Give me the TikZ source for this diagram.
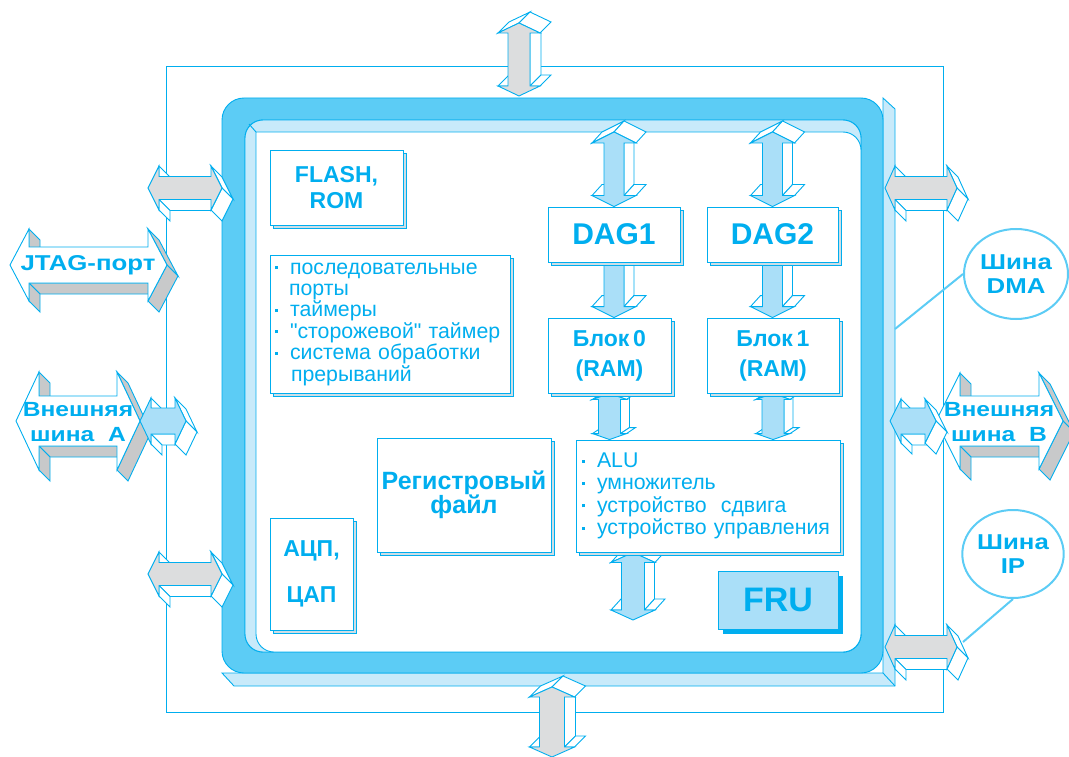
\documentclass[tikz,border=0pt]{standalone}
\usepackage{fontspec}
\setmainfont{Liberation Sans}
\newfontfamily\widesans[FakeStretch=1.2]{Liberation Sans}
\usetikzlibrary{calc,shapes.geometric,shadows}

\definecolor{busline}{RGB}{0,174,239}
\definecolor{ringblue}{RGB}{92,204,245}
\definecolor{paleblue}{RGB}{200,234,250}
\definecolor{arrowblue}{RGB}{170,223,248}
\definecolor{facegray}{RGB}{220,221,222}
\definecolor{sidegray}{RGB}{200,201,202}
\definecolor{shadowgray}{RGB}{205,222,230}
\definecolor{ovalline}{RGB}{92,204,245}

\pgfdeclarelayer{frame}
\pgfdeclarelayer{buses}
\pgfsetlayers{frame,buses,main}

\tikzset{
  busedge/.style={draw=busline, line width=0.9pt, line join=miter},
  panel/.style={draw=busline, line width=0.9pt, fill=white, text=busline,
    align=center, inner sep=0pt,
    general shadow={fill=shadowgray, draw=busline, line width=0.6pt,
      shadow xshift=3pt, shadow yshift=-3pt}},
  oval/.style={ellipse, draw=ovalline, line width=2pt, fill=white,
    text=busline, align=center, inner sep=0pt,
    font=\widesans\fontsize{21.5}{24}\selectfont\bfseries},
  buslabel/.style={text=busline, align=center, inner sep=0pt,
    font=\widesans\fontsize{20.5}{25}\selectfont\bfseries},
  callout/.style={draw=ovalline, line width=2pt},
}

% offset of the 3d side of a bus arrow
\def\busdx{11}
\def\busdy{11}

% horizontal double arrow: tips #1,#2; shaft half #3; head half #4;
% head length #5; face colour #6; side colour #7
\newcommand{\hbus}[7]{%
  \coordinate (t1) at (#1);
  \coordinate (t6) at (#2);
  \coordinate (t2) at ($(t1)+(#5,-#4)$);
  \coordinate (t3) at ($(t1)+(#5,-#3)$);
  \coordinate (t4) at ($(t6)+(-#5,-#3)$);
  \coordinate (t5) at ($(t6)+(-#5,-#4)$);
  \coordinate (t7) at ($(t6)+(-#5,#4)$);
  \coordinate (t8) at ($(t6)+(-#5,#3)$);
  \coordinate (t9) at ($(t1)+(#5,#3)$);
  \coordinate (t10) at ($(t1)+(#5,#4)$);
  \foreach \a/\b in {2/3,8/9,9/10,5/6,6/7}
    \draw[busedge, fill=#7] (t\a) -- (t\b) -- ($(t\b)+(\busdx,\busdy)$)
      -- ($(t\a)+(\busdx,\busdy)$) -- cycle;
  \draw[busedge, fill=#6] (t1) -- (t2) -- (t3) -- (t4) -- (t5) -- (t6)
    -- (t7) -- (t8) -- (t9) -- (t10) -- cycle;
}

% vertical double arrow: top tip #1, bottom tip #2, rest as above
\newcommand{\vbus}[7]{%
  \coordinate (t1) at (#1);
  \coordinate (t6) at (#2);
  \coordinate (t2) at ($(t1)+(#4,#5)$);
  \coordinate (t3) at ($(t1)+(#3,#5)$);
  \coordinate (t4) at ($(t6)+(#3,-#5)$);
  \coordinate (t5) at ($(t6)+(#4,-#5)$);
  \coordinate (t7) at ($(t6)+(-#4,-#5)$);
  \coordinate (t8) at ($(t6)+(-#3,-#5)$);
  \coordinate (t9) at ($(t1)+(-#3,#5)$);
  \coordinate (t10) at ($(t1)+(-#4,#5)$);
  \foreach \a/\b in {3/4,4/5,7/8,10/1,1/2}
    \draw[busedge, fill=#7] (t\a) -- (t\b) -- ($(t\b)+(\busdx,\busdy)$)
      -- ($(t\a)+(\busdx,\busdy)$) -- cycle;
  \draw[busedge, fill=#6] (t1) -- (t2) -- (t3) -- (t4) -- (t5) -- (t6)
    -- (t7) -- (t8) -- (t9) -- (t10) -- cycle;
}

\newcommand{\itm}{\makebox[15pt][l]{\rule[5pt]{3pt}{3pt}}}

\begin{document}
\begin{tikzpicture}[x=1pt,y=-1pt]
\useasboundingbox (0,0) rectangle (1069,757);

\begin{pgfonlayer}{frame}
  % thin outer frame
  \draw[busline, line width=0.9pt] (166,66) rectangle (943,712);

  % 3d edge of the chip ring
  \draw[busedge, fill=paleblue] (222,673) -- (234,686) -- (895,686)
    -- (895,109) -- (883,98) -- (883,673) -- cycle;
  \draw[busedge] (883,673) -- (895,686);

  % the ring itself
  \draw[busedge, fill=ringblue, even odd rule]
    [rounded corners=22] (222,98) rectangle (883,673)
    [rounded corners=18] (245,120) rectangle (861,652);
  \draw[busedge, fill=paleblue, rounded corners=18] (245,120) rectangle (861,652);
  \draw[busedge, fill=white] (256,132) [rounded corners=18] -- (861,132)
    -- (861,652) -- (256,652) -- (256,600) [sharp corners] -- cycle;
  \draw[busedge] (249,124) -- (256,132);
\end{pgfonlayer}

% blocks inside the chip
\node[panel, minimum width=133, minimum height=75,
  font=\fontsize{23}{26}\selectfont\bfseries] (flash) at (336.5,187.5) {FLASH,\\ROM};
\node[panel, minimum width=240, minimum height=138, text width=230, align=left,
  font=\fontsize{21.3}{21.4}\selectfont] (periph) at (390,324)
  {\itm последовательные\\
   \hspace*{14pt}порты\\
   \itm таймеры\\
   \itm \textquotedbl сторожевой\textquotedbl\ таймер\\
   \itm система обработки\\
   \hspace*{16pt}прерываний};
\node[panel, minimum width=83, minimum height=112,
  font=\fontsize{23}{46}\selectfont\bfseries] (adc) at (311.5,574) {АЦП,\\ЦАП};
\node[panel, minimum width=174, minimum height=114,
  font=\fontsize{25}{24}\selectfont\bfseries] (regs) at (464,495) {Регистровый\\файл};
\node[panel, minimum width=132, minimum height=55,
  font=\fontsize{30}{34}\selectfont\bfseries] (dag1) at (614,234.5) {DAG1};
\node[panel, minimum width=131, minimum height=55,
  font=\fontsize{30}{34}\selectfont\bfseries] (dag2) at (772.5,234.5) {DAG2};
\node[panel, minimum width=123, minimum height=75,
  font=\fontsize{23}{30}\selectfont\bfseries] (blk0) at (609.5,355.5) {Блок\,0\\(RAM)};
\node[panel, minimum width=132, minimum height=75,
  font=\fontsize{23}{30}\selectfont\bfseries] (blk1) at (773,355.5) {Блок\,1\\(RAM)};
\node[panel, minimum width=264, minimum height=112, text width=252, align=left,
  font=\fontsize{21.3}{22.3}\selectfont] (alu) at (708,496)
  {\itm ALU\\
   \itm умножитель\\
   \itm устройство\ \ сдвига\\
   \itm устройство управления};
\node[draw=busline, line width=0.9pt, fill=arrowblue, text=busline,
  minimum width=120, minimum height=58, inner sep=0pt,
  general shadow={fill=busline, shadow xshift=5pt, shadow yshift=-5pt},
  font=\fontsize{34}{36}\selectfont\bfseries] (fru) at (778,600) {FRU};

% free ends of the buses
\coordinate (inNW) at (256,132);
\coordinate (topN) at (519,23);   \coordinate (topS) at (519,96);
\coordinate (botN) at (552,687);  \coordinate (botS) at (552,757);
\coordinate (aluS) at (633,620);
\coordinate (w1) at (148,188);    \coordinate (e1) at (222,188);
\coordinate (w2) at (148,574);    \coordinate (e2) at (222,574);
\coordinate (w3) at (140,421);    \coordinate (e3) at (186,421);
\coordinate (w4) at (885,188);    \coordinate (e4) at (957,188);
\coordinate (w5) at (885,647);    \coordinate (e5) at (957,647);
\coordinate (w6) at (890,421);    \coordinate (e6) at (936,421);
\coordinate (jtagW) at (10,265);  \coordinate (jtagE) at (167,265);
\coordinate (extAW) at (16,421);  \coordinate (extAE) at (140,421);
\coordinate (extBW) at (936,421); \coordinate (extBE) at (1063,421);

\begin{pgfonlayer}{buses}
  % horizontal ports
  \def\busdx{11}\def\busdy{11}
  \hbus{w1}{e1}{11.5}{22}{11}{facegray}{white}
  \hbus{w2}{e2}{11.5}{22}{11}{facegray}{white}
  \hbus{w4}{e4}{11.5}{22}{10}{facegray}{white}
  \hbus{w5}{e5}{11.5}{22}{10}{facegray}{white}
  \hbus{jtagW}{jtagE}{18}{36}{19}{white}{sidegray}
  \hbus{extAW}{extAE}{25}{49}{23}{white}{sidegray}
  \hbus{w3}{e3}{13}{23}{11}{arrowblue}{white}
  \hbus{extBW}{extBE}{25}{48}{24}{white}{sidegray}
  \hbus{w6}{e6}{13}{22}{11}{arrowblue}{white}

  % vertical buses
  \def\busdx{11}\def\busdy{-11}
  \vbus{topN}{topS}{11}{21}{10}{facegray}{white}
  \vbus{botN}{botS}{12.5}{22.5}{10}{facegray}{white}
  \def\busdx{10}\def\busdy{-11}
  \vbus{dag1.north |- inNW}{dag1.north}{10}{22}{11}{arrowblue}{white}
  \vbus{dag2.north |- inNW}{dag2.north}{10}{22}{11}{arrowblue}{white}
  \vbus{dag1.center}{dag1.south |- blk0.north}{10}{22}{11}{arrowblue}{white}
  \vbus{dag2.center}{dag2.south |- blk1.north}{10}{22}{11}{arrowblue}{white}
  \vbus{aluS |- alu.south}{aluS}{11.5}{22}{10}{arrowblue}{white}
  \def\busdx{9}\def\busdy{-6}
  \vbus{blk0.south}{blk0.south |- alu.north}{11}{17}{6}{arrowblue}{white}
  \vbus{blk1.south}{blk1.south |- alu.north}{11}{17}{6}{arrowblue}{white}
\end{pgfonlayer}

% names on the outer buses
\node[buslabel, font=\widesans\fontsize{21.5}{25}\selectfont\bfseries] (jtag) at (jtagW -| 88,0) {JTAG-порт};
\node[buslabel] (extA) at (78,422) {Внешняя\\шина\ \ A};
\node[buslabel] (extB) at (999,422) {Внешняя\\шина\ \ B};

% callouts
\node[oval, minimum width=104, minimum height=90] (dma) at (1016,274) {Шина\\DMA};
\node[oval, minimum width=98, minimum height=88] (ip) at (1013,554) {Шина\\IP};
\coordinate (dmaEnd) at (895,329);
\coordinate (ipEnd) at (963,642);
\draw[callout] (dma.west) -- (dmaEnd);
\draw[callout] (ip.south) -- (ipEnd);

\end{tikzpicture}
\end{document}
